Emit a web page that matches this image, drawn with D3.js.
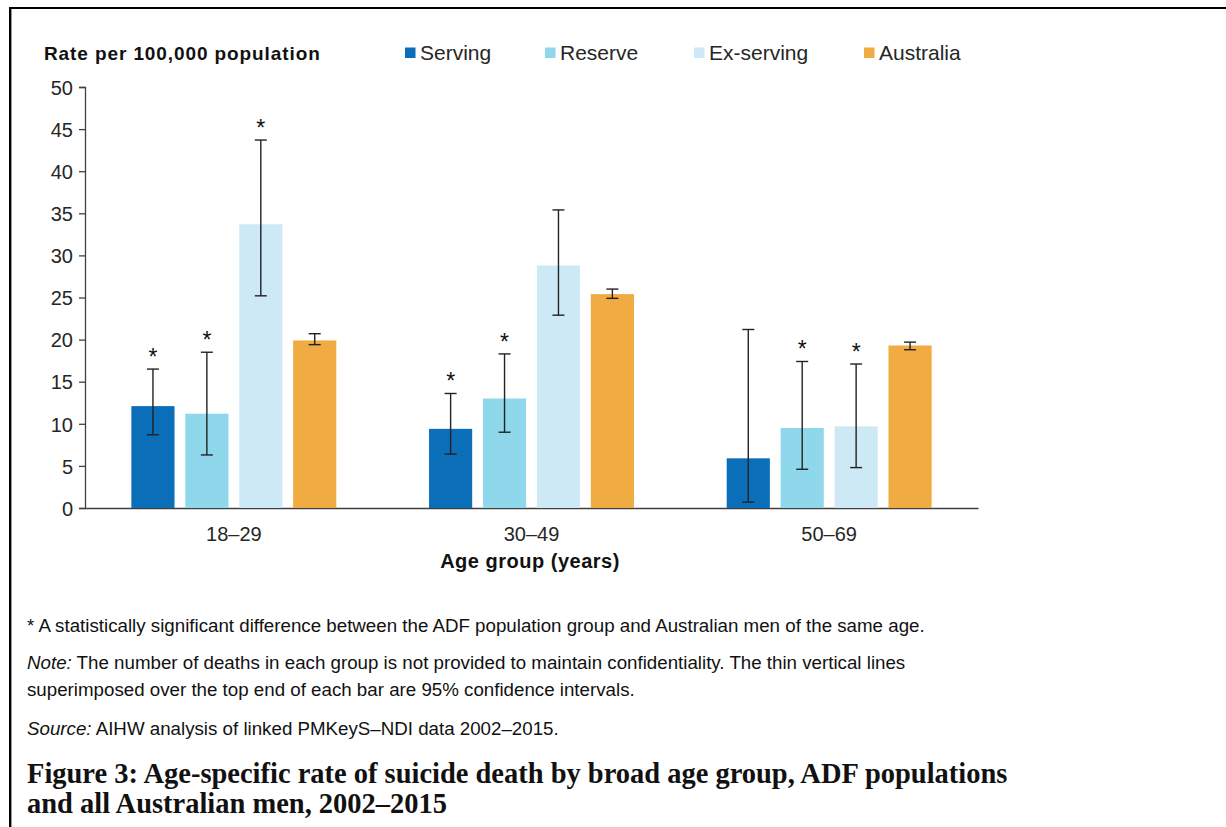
<!DOCTYPE html>
<html><head><meta charset="utf-8">
<script src="https://cdn.jsdelivr.net/npm/d3@7"></script>
<style>
html,body{margin:0;padding:0;background:#fff;}
text{font-family:"Liberation Sans",Arial,sans-serif;}
</style></head>
<body><div id="chart"></div>
<script>
const categories = ["18–29", "30–49", "50–69"];
const seriesNames = ["Serving", "Reserve", "Ex-serving", "Australia"];
const serving = [12.1, 9.4, 5.9];
const reserve = [11.2, 13.0, 9.5];
const exServing = [33.7, 28.8, 9.7];
const australia = [19.9, 25.4, 19.3];
const servingLow = [8.7, 6.4, 0.7], servingHigh = [16.5, 13.6, 21.2];
const reserveLow = [6.3, 9.0, 4.6], reserveHigh = [18.5, 18.3, 17.4];
const exServingLow = [25.2, 22.9, 4.8], exServingHigh = [43.7, 35.4, 17.1];
const australiaLow = [19.4, 24.9, 18.8], australiaHigh = [20.7, 26.0, 19.7];
const servingSig = [true, true, false];
const reserveSig = [true, true, true];
const exServingSig = [true, false, true];
const australiaSig = [false, false, false];
const yTicks = [0, 5, 10, 15, 20, 25, 30, 35, 40, 45, 50];
const colors = ["#0a6eb8", "#8fd7ea", "#cde9f6", "#f0ab42"];

const values = [serving, reserve, exServing, australia];
const lows = [servingLow, reserveLow, exServingLow, australiaLow];
const highs = [servingHigh, reserveHigh, exServingHigh, australiaHigh];
const sigs = [servingSig, reserveSig, exServingSig, australiaSig];

const rows = [];
categories.forEach((c, i) => seriesNames.forEach((s, j) => rows.push({
  cat: c, series: s, v: values[j][i], lo: lows[j][i], hi: highs[j][i], sig: sigs[j][i], color: colors[j]
})));

const W = 1226, H = 827;
const svg = d3.select("#chart").append("svg").attr("width", W).attr("height", H);
svg.append("rect").attr("width", W).attr("height", H).attr("fill", "#fff");

// frame lines
svg.append("line").attr("x1", 9).attr("x2", W).attr("y1", 8).attr("y2", 8).attr("stroke", "#000").attr("stroke-width", 2.2);
svg.append("line").attr("x1", 10.2).attr("x2", 10.2).attr("y1", 7).attr("y2", H).attr("stroke", "#000").attr("stroke-width", 2.4);

const x0 = d3.scaleBand().domain(categories).range([85, 978]);
const x1 = d3.scaleBand().domain(seriesNames).range([0, x0.bandwidth()]).paddingInner(0.2).paddingOuter(0.86);
const y = d3.scaleLinear().domain([0, 50]).range([508, 87]);

const axisColor = "#404040";
const textColor = "#262626";

// y axis
const yAxis = svg.append("g").attr("transform", "translate(85,0)")
  .call(d3.axisLeft(y).tickValues(yTicks).tickSize(6).tickPadding(6).tickFormat(d3.format("d")));
yAxis.select(".domain").attr("stroke", axisColor).attr("stroke-width", 1.3);
yAxis.selectAll(".tick line").attr("stroke", axisColor).attr("stroke-width", 1.3);
yAxis.selectAll(".tick text").attr("fill", textColor).attr("font-size", "20px").attr("dy", "0.36em")
  .style("font-family", '"Liberation Sans",Arial,sans-serif');

// x axis
const xAxis = svg.append("g").attr("transform", "translate(0,508)")
  .call(d3.axisBottom(x0).tickSize(0).tickPadding(19));
xAxis.select(".domain").attr("stroke", axisColor).attr("stroke-width", 1.3);
xAxis.selectAll(".tick text").attr("fill", textColor).attr("font-size", "20px")
  .style("font-family", '"Liberation Sans",Arial,sans-serif');

// bars
const g = svg.append("g");
g.selectAll("rect.bar").data(rows).join("rect").attr("class", "bar")
  .attr("x", d => x0(d.cat) + x1(d.series))
  .attr("width", x1.bandwidth())
  .attr("y", d => y(d.v))
  .attr("height", d => y(0) - y(d.v))
  .attr("fill", d => d.color);

// error bars
const cap = 6;
const eb = g.selectAll("g.err").data(rows).join("g").attr("class", "err")
  .attr("transform", d => `translate(${x0(d.cat) + x1(d.series) + x1.bandwidth() / 2},0)`);
eb.append("line").attr("y1", d => y(d.lo)).attr("y2", d => y(d.hi)).attr("stroke", "#222").attr("stroke-width", 1.4);
eb.append("line").attr("x1", -cap).attr("x2", cap).attr("y1", d => y(d.hi)).attr("y2", d => y(d.hi)).attr("stroke", "#222").attr("stroke-width", 1.4);
eb.append("line").attr("x1", -cap).attr("x2", cap).attr("y1", d => y(d.lo)).attr("y2", d => y(d.lo)).attr("stroke", "#222").attr("stroke-width", 1.4);
eb.filter(d => d.sig).append("text").attr("text-anchor", "middle").attr("y", d => y(d.hi) - 4)
  .attr("font-size", "23px").attr("fill", "#111").text("*");

// y label
svg.append("text").attr("x", 44).attr("y", 60).attr("font-size", "19px").attr("font-weight", "bold")
  .attr("fill", "#111").style("letter-spacing", "0.9px").text("Rate per 100,000 population");

// x label
svg.append("text").attr("x", 530).attr("y", 568).attr("text-anchor", "middle").attr("font-size", "20px")
  .attr("font-weight", "bold").attr("fill", "#111").style("letter-spacing", "0.5px").text("Age group (years)");

// legend
const legendX = [405, 545, 694, 864];
const lg = svg.selectAll("g.leg").data(seriesNames).join("g").attr("class", "leg")
  .attr("transform", (d, i) => `translate(${legendX[i]},0)`);
lg.append("rect").attr("x", 0).attr("y", 47.5).attr("width", 10.5).attr("height", 10.5).attr("fill", (d, i) => colors[i]);
lg.append("text").attr("x", 15).attr("y", 60).attr("font-size", "21px").attr("fill", textColor).text(d => d);

// footnotes
const foot = svg.append("g").attr("fill", "#111");
function fitWidth(sel, target) {
  const w = sel.node().getComputedTextLength();
  const fs = parseFloat(sel.attr("font-size"));
  return fs * target / w;
}
const f1 = foot.append("text").attr("x", 27).attr("y", 632).attr("font-size", "16px")
  .text("* A statistically significant difference between the ADF population group and Australian men of the same age.");
const fs = Math.min(19, Math.max(14, fitWidth(f1, 898)));
f1.attr("font-size", fs + "px");
const f2 = foot.append("text").attr("x", 27).attr("y", 669).attr("font-size", fs + "px");
f2.append("tspan").attr("font-style", "italic").text("Note:");
f2.append("tspan").text(" The number of deaths in each group is not provided to maintain confidentiality. The thin vertical lines");
foot.append("text").attr("x", 27).attr("y", 696).attr("font-size", fs + "px")
  .text("superimposed over the top end of each bar are 95% confidence intervals.");
const f4 = foot.append("text").attr("x", 27).attr("y", 735).attr("font-size", fs + "px");
f4.append("tspan").attr("font-style", "italic").text("Source:");
f4.append("tspan").text(" AIHW analysis of linked PMKeyS–NDI data 2002–2015.");

// title
const tg = svg.append("g").attr("fill", "#111");
const t1 = tg.append("text").attr("x", 27).attr("y", 783).attr("font-size", "24px").attr("font-weight", "bold")
  .style("font-family", '"Liberation Serif","DejaVu Serif",serif')
  .text("Figure 3: Age-specific rate of suicide death by broad age group, ADF populations");
const tfs = Math.min(30, Math.max(18, fitWidth(t1, 981)));
t1.attr("font-size", tfs + "px");
tg.append("text").attr("x", 27).attr("y", 813).attr("font-size", tfs + "px").attr("font-weight", "bold")
  .style("font-family", '"Liberation Serif","DejaVu Serif",serif')
  .text("and all Australian men, 2002–2015");
</script>
</body></html>
